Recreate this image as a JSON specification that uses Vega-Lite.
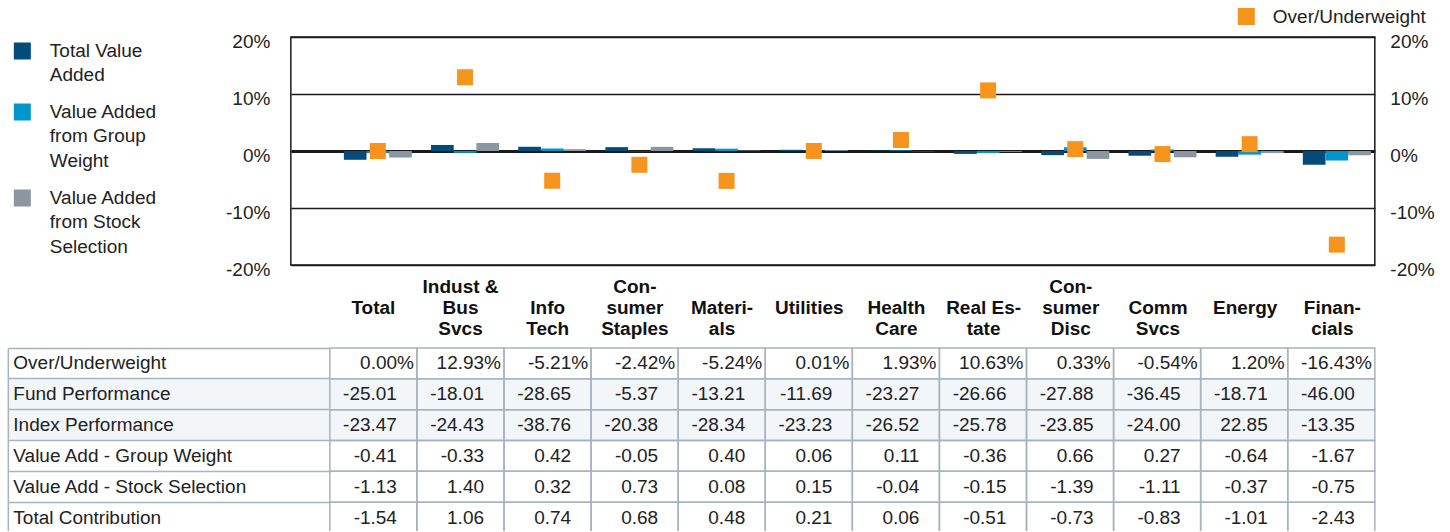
{
  "$schema": "https://vega.github.io/schema/vega-lite/v6.json",
  "padding": {"left": -8.17, "top": 7, "right": 0, "bottom": -3},
  "background": "white",
  "spacing": 7,
  "config": {
    "font": "Liberation Sans",
    "locale": {"number": {"decimal": ".", "thousands": ",", "grouping": [3], "currency": ["$", ""], "minus": "-"}},
    "axis": {"labelFont": "Liberation Sans", "labelColor": "#222222"},
    "legend": {"labelFont": "Liberation Sans", "labelColor": "#222222"}
  },
  "datasets": {
    "sectors": [
      {"cat": "Total", "Over/Underweight": 0.00, "Fund Performance": -25.01, "Index Performance": -23.47, "Value Add - Group Weight": -0.41, "Value Add - Stock Selection": -1.13, "Total Contribution": -1.54},
      {"cat": "Indust & Bus Svcs", "Over/Underweight": 12.93, "Fund Performance": -18.01, "Index Performance": -24.43, "Value Add - Group Weight": -0.33, "Value Add - Stock Selection": 1.40, "Total Contribution": 1.06},
      {"cat": "Info Tech", "Over/Underweight": -5.21, "Fund Performance": -28.65, "Index Performance": -38.76, "Value Add - Group Weight": 0.42, "Value Add - Stock Selection": 0.32, "Total Contribution": 0.74},
      {"cat": "Consumer Staples", "Over/Underweight": -2.42, "Fund Performance": -5.37, "Index Performance": -20.38, "Value Add - Group Weight": -0.05, "Value Add - Stock Selection": 0.73, "Total Contribution": 0.68},
      {"cat": "Materials", "Over/Underweight": -5.24, "Fund Performance": -13.21, "Index Performance": -28.34, "Value Add - Group Weight": 0.40, "Value Add - Stock Selection": 0.08, "Total Contribution": 0.48},
      {"cat": "Utilities", "Over/Underweight": 0.01, "Fund Performance": -11.69, "Index Performance": -23.23, "Value Add - Group Weight": 0.06, "Value Add - Stock Selection": 0.15, "Total Contribution": 0.21},
      {"cat": "Health Care", "Over/Underweight": 1.93, "Fund Performance": -23.27, "Index Performance": -26.52, "Value Add - Group Weight": 0.11, "Value Add - Stock Selection": -0.04, "Total Contribution": 0.06},
      {"cat": "Real Estate", "Over/Underweight": 10.63, "Fund Performance": -26.66, "Index Performance": -25.78, "Value Add - Group Weight": -0.36, "Value Add - Stock Selection": -0.15, "Total Contribution": -0.51},
      {"cat": "Consumer Disc", "Over/Underweight": 0.33, "Fund Performance": -27.88, "Index Performance": -23.85, "Value Add - Group Weight": 0.66, "Value Add - Stock Selection": -1.39, "Total Contribution": -0.73},
      {"cat": "Comm Svcs", "Over/Underweight": -0.54, "Fund Performance": -36.45, "Index Performance": -24.00, "Value Add - Group Weight": 0.27, "Value Add - Stock Selection": -1.11, "Total Contribution": -0.83},
      {"cat": "Energy", "Over/Underweight": 1.20, "Fund Performance": -18.71, "Index Performance": 22.85, "Value Add - Group Weight": -0.64, "Value Add - Stock Selection": -0.37, "Total Contribution": -1.01},
      {"cat": "Financials", "Over/Underweight": -16.43, "Fund Performance": -46.00, "Index Performance": -13.35, "Value Add - Group Weight": -1.67, "Value Add - Stock Selection": -0.75, "Total Contribution": -2.43}
    ]
  },
  "vconcat": [
    {
      "width": 1084,
      "height": 228,
      "view": {"stroke": "#1a1a1a", "strokeWidth": 1.5},
      "data": {"name": "sectors"},
      "layer": [
        {
          "transform": [{"fold": ["Total Contribution", "Value Add - Group Weight", "Value Add - Stock Selection"], "as": ["series", "value"]}],
          "mark": {"type": "bar"},
          "encoding": {
            "x": {
              "field": "cat", "type": "nominal",
              "sort": ["Total", "Indust & Bus Svcs", "Info Tech", "Consumer Staples", "Materials", "Utilities", "Health Care", "Real Estate", "Consumer Disc", "Comm Svcs", "Energy", "Financials"],
              "scale": {"paddingInner": 0.22, "paddingOuter": 0.327, "align": 0.93},
              "axis": {
                "orient": "bottom", "title": null, "domain": false, "ticks": false, "grid": false,
                "labelAngle": 0, "labelFontSize": 19, "labelFontWeight": "bold", "labelColor": "#111111",
                "labelLineHeight": 21, "labelBaseline": "top", "labelPadding": 13, "labelOffset": -4.5,
                "labelLimit": 0, "labelOverlap": false,
                "labelExpr": "datum.label == 'Indust & Bus Svcs' ? ['Indust &', 'Bus', 'Svcs'] : datum.label == 'Info Tech' ? ['', 'Info', 'Tech'] : datum.label == 'Consumer Staples' ? ['Con-', 'sumer', 'Staples'] : datum.label == 'Materials' ? ['', 'Materi-', 'als'] : datum.label == 'Health Care' ? ['', 'Health', 'Care'] : datum.label == 'Real Estate' ? ['', 'Real Es-', 'tate'] : datum.label == 'Consumer Disc' ? ['Con-', 'sumer', 'Disc'] : datum.label == 'Comm Svcs' ? ['', 'Comm', 'Svcs'] : datum.label == 'Financials' ? ['', 'Finan-', 'cials'] : ['', '', datum.label]"
              }
            },
            "xOffset": {"field": "series", "type": "nominal", "sort": ["Total Contribution", "Value Add - Group Weight", "Value Add - Stock Selection"], "scale": {"paddingInner": 0, "paddingOuter": 0}},
            "y": {
              "field": "value", "type": "quantitative",
              "scale": {"domain": [-20, 20], "nice": false},
              "axis": {
                "orient": "left", "title": null, "values": [-20, -10, 0, 10, 20], "labelExpr": "datum.value + '%'",
                "domain": false, "ticks": false, "labelPadding": 21, "labelFontSize": 19, "labelOffset": 4, "labelFlush": false,
                "grid": true, "gridColor": "#1a1a1a",
                "gridWidth": {"condition": {"test": "datum.value === 0", "value": 3}, "value": 1.5}
              }
            },
            "color": {
              "field": "series", "type": "nominal",
              "scale": {"domain": ["Total Contribution", "Value Add - Group Weight", "Value Add - Stock Selection"], "range": ["#034b7b", "#0096cc", "#8c96a1"]},
              "legend": {
                "orient": "none", "legendX": -284, "legendY": -1.5, "padding": 6, "title": null,
                "symbolType": "square", "symbolSize": 289, "symbolStrokeWidth": 0,
                "labelFontSize": 19, "labelOffset": 18, "labelBaseline": "middle", "rowPadding": 17, "labelLimit": 0,
                "labelExpr": "datum.label == 'Total Contribution' ? ['Total Value', 'Added'] : datum.label == 'Value Add - Group Weight' ? ['Value Added', 'from Group', 'Weight'] : ['Value Added', 'from Stock', 'Selection']",
                "encode": {"labels": {"update": {"lineHeight": {"value": 24.5}}}}
              }
            }
          }
        },
        {
          "transform": [{"fold": ["Over/Underweight"], "as": ["series2", "value"]}],
          "mark": {"type": "square", "size": 256, "opacity": 1},
          "encoding": {
            "x": {"field": "cat", "type": "nominal", "sort": ["Total", "Indust & Bus Svcs", "Info Tech", "Consumer Staples", "Materials", "Utilities", "Health Care", "Real Estate", "Consumer Disc", "Comm Svcs", "Energy", "Financials"]},
            "y": {
              "field": "value", "type": "quantitative",
              "axis": {
                "orient": "right", "title": null, "values": [-20, -10, 0, 10, 20], "labelExpr": "datum.value + '%'",
                "domain": false, "ticks": false, "grid": false, "labelPadding": 15, "labelFontSize": 19, "labelOffset": 4, "labelFlush": false
              }
            },
            "fill": {
              "field": "series2", "type": "nominal",
              "scale": {"range": ["#f7941e"]},
              "legend": {
                "orient": "none", "legendX": 946, "legendY": -30, "padding": 0, "title": null,
                "symbolType": "square", "symbolSize": 289, "symbolStrokeWidth": 0,
                "labelFontSize": 19, "labelOffset": 17, "labelLimit": 0
              }
            }
          }
        }
      ],
      "resolve": {"axis": {"y": "independent"}}
    },
    {
      "width": 1084,
      "height": 185,
      "view": {"stroke": null},
      "data": {"name": "sectors"},
      "transform": [{"fold": ["Over/Underweight", "Fund Performance", "Index Performance", "Value Add - Group Weight", "Value Add - Stock Selection", "Total Contribution"], "as": ["row", "value"]}],
      "layer": [
        {
          "transform": [{"filter": {"field": "row", "oneOf": ["Fund Performance", "Index Performance"]}}],
          "mark": {"type": "rect", "color": "#f2f6f9"},
          "encoding": {
            "x": {
              "field": "cat", "type": "nominal",
              "sort": ["Total", "Indust & Bus Svcs", "Info Tech", "Consumer Staples", "Materials", "Utilities", "Health Care", "Real Estate", "Consumer Disc", "Comm Svcs", "Energy", "Financials"],
              "scale": {"paddingInner": 0, "paddingOuter": 0.224, "align": 1},
              "axis": null
            },
            "y": {
              "field": "row", "type": "nominal",
              "sort": ["Over/Underweight", "Fund Performance", "Index Performance", "Value Add - Group Weight", "Value Add - Stock Selection", "Total Contribution"],
              "scale": {"paddingInner": 0, "paddingOuter": 0},
              "axis": {
                "orient": "left", "title": null, "offset": 283, "domain": false, "labels": false, "grid": false,
                "ticks": true, "tickSize": -322, "tickWidth": 30.83, "bandPosition": 0.5, "zindex": 0,
                "tickColor": {"condition": {"test": "datum.value === 'Fund Performance' || datum.value === 'Index Performance'", "value": "#f2f6f9"}, "value": "transparent"}
              }
            }
          }
        },
        {
          "mark": {"type": "rect", "fill": "transparent", "stroke": "#a9b3bd", "strokeWidth": 1.5},
          "encoding": {
            "x": {"field": "cat", "type": "nominal", "sort": ["Total", "Indust & Bus Svcs", "Info Tech", "Consumer Staples", "Materials", "Utilities", "Health Care", "Real Estate", "Consumer Disc", "Comm Svcs", "Energy", "Financials"]},
            "y": {
              "field": "row", "type": "nominal",
              "sort": ["Over/Underweight", "Fund Performance", "Index Performance", "Value Add - Group Weight", "Value Add - Stock Selection", "Total Contribution"],
              "axis": {
                "orient": "left", "title": null, "offset": 283, "labels": false, "grid": false,
                "domain": true, "domainColor": "#a9b3bd", "domainWidth": 1.5,
                "ticks": true, "tickSize": -322, "tickWidth": 1.5, "tickColor": "#a9b3bd", "bandPosition": 0, "zindex": 1
              }
            }
          }
        },
        {
          "transform": [{"filter": "datum.row === 'Over/Underweight'"}, {"calculate": "format(datum.value, '.2f') + '%'", "as": "label"}],
          "mark": {"type": "text", "align": "right", "dx": -3, "fontSize": 19, "color": "#222222"},
          "encoding": {
            "x": {"field": "cat", "type": "nominal", "bandPosition": 1, "sort": ["Total", "Indust & Bus Svcs", "Info Tech", "Consumer Staples", "Materials", "Utilities", "Health Care", "Real Estate", "Consumer Disc", "Comm Svcs", "Energy", "Financials"]},
            "y": {
              "field": "row", "type": "nominal",
              "sort": ["Over/Underweight", "Fund Performance", "Index Performance", "Value Add - Group Weight", "Value Add - Stock Selection", "Total Contribution"],
              "axis": {
                "orient": "left", "title": null, "offset": 283, "domain": false, "ticks": false, "grid": false,
                "labelAlign": "left", "labelPadding": -5, "labelFontSize": 19, "labelLimit": 0, "zindex": 1
              }
            },
            "text": {"field": "label"}
          }
        },
        {
          "transform": [{"filter": "datum.row !== 'Over/Underweight'"}],
          "mark": {"type": "text", "align": "right", "dx": -20, "fontSize": 19, "color": "#222222"},
          "encoding": {
            "x": {"field": "cat", "type": "nominal", "bandPosition": 1, "sort": ["Total", "Indust & Bus Svcs", "Info Tech", "Consumer Staples", "Materials", "Utilities", "Health Care", "Real Estate", "Consumer Disc", "Comm Svcs", "Energy", "Financials"]},
            "y": {
              "field": "row", "type": "nominal",
              "sort": ["Over/Underweight", "Fund Performance", "Index Performance", "Value Add - Group Weight", "Value Add - Stock Selection", "Total Contribution"],
              "axis": null
            },
            "text": {"field": "value", "type": "quantitative", "format": ".2f"}
          }
        }
      ],
      "resolve": {"axis": {"y": "independent"}}
    }
  ]
}
